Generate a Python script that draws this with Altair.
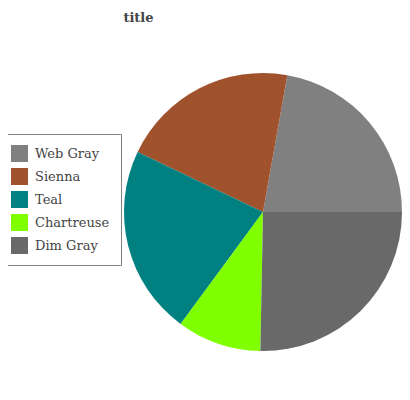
import math
import altair as alt
import pandas as pd

categories = ["Web Gray", "Sienna", "Teal", "Chartreuse", "Dim Gray"]
values = [22.2, 20.7, 22.0, 9.8, 25.3]
colors = ["#808080", "#A0522D", "#008080", "#7FFF00", "#696969"]

df = pd.DataFrame({"category": categories, "value": values, "idx": list(range(len(categories)))})

pie = alt.Chart(df).mark_arc(radius=139).encode(
    x=alt.value(255),
    y=alt.value(204),
    theta=alt.Theta("value:Q", stack=True,
                    scale=alt.Scale(range=[math.pi / 2, math.pi / 2 - 2 * math.pi])),
    order=alt.Order("idx:Q"),
    color=alt.Color(
        "category:N",
        sort=categories,
        scale=alt.Scale(domain=categories, range=colors),
        legend=alt.Legend(
            title=None,
            orient="none",
            legendX=-8,
            legendY=126,
            symbolType="square",
            symbolSize=289,
            symbolStrokeWidth=0,
            symbolOpacity=1,
            labelFont="DejaVu Serif",
            labelFontSize=13,
            labelColor="#444444",
            labelOffset=7,
            rowPadding=6,
            padding=11,
            strokeColor="#808080",
            fillColor="white",
        ),
    ),
)

title = alt.Chart(pd.DataFrame({"t": ["title"]})).mark_text(
    font="DejaVu Serif", fontSize=13, fontWeight="bold", color="#444444",
    align="center", baseline="alphabetic"
).encode(x=alt.value(130.5), y=alt.value(13.5), text="t:N")

chart = alt.layer(pie, title).properties(
    width=394, height=384, padding=0, autosize=alt.AutoSizeParams(type="none")
).configure_view(stroke=None)

chart.save("out.html", embed_options={"renderer": "svg", "actions": False})
